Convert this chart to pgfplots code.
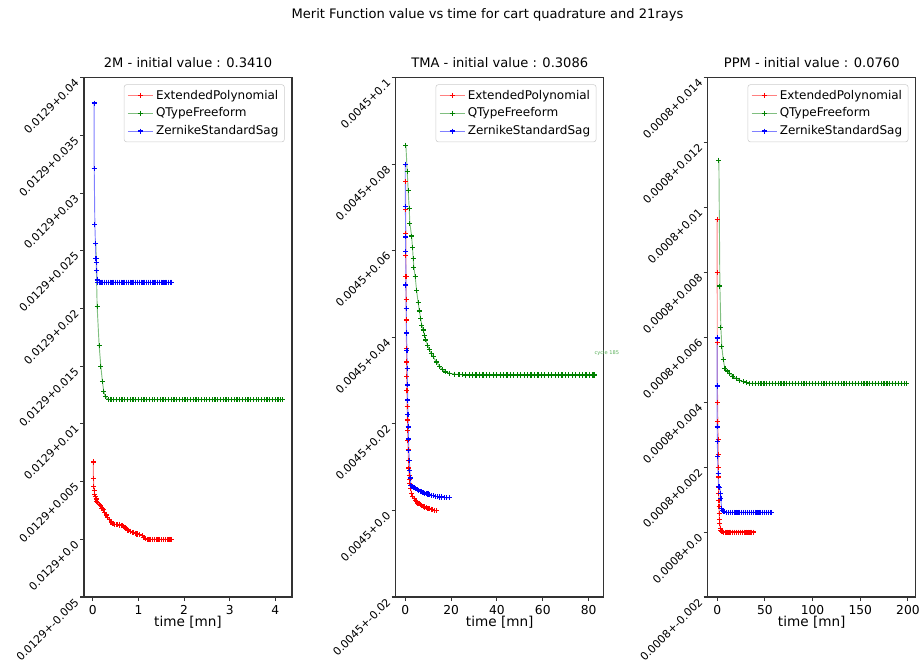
\documentclass[border=0pt]{standalone}
\usepackage{fontspec}
\setmainfont{DejaVu Sans}
\usepackage{pgfplots}
\pgfplotsset{compat=1.18}
\definecolor{mred}{rgb}{1,0,0}
\definecolor{mgreen}{rgb}{0,0.5,0}
\definecolor{mblue}{rgb}{0,0,1}
\definecolor{cyc}{RGB}{90,175,90}
\pgfplotsset{
  ser/.style={color=#1, draw=#1!50!white, line width=0.7pt, mark=+, mark size=1.9pt,
    mark options={color=#1, solid, line width=0.9pt}},
  myax/.style={
    scale only axis, width=156pt, height=389.5pt, anchor=south west,
    scaled x ticks=false, scaled y ticks=false,
    axis line style={black!80, line width=0.8pt},
    tick style={black!80, line width=0.8pt},
    tick align=outside, major tick length=3pt, tick pos=left,
    xticklabel style={font=\fontsize{9.2}{10}\selectfont},
    yticklabel style={font=\fontsize{8.2}{9}\selectfont, rotate=45, anchor=east},
    /pgf/number format/assume math mode=true,
    xlabel={time [mn]},
    xlabel style={font=\fontsize{10.2}{11}\selectfont, at={(axis description cs:0.5,0)}, anchor=center, yshift=-18.6pt},
    title style={font=\fontsize{9.8}{11}\selectfont, at={(axis description cs:0.5,1)}, anchor=center, yshift=5pt},
    legend style={at={(1,1)}, anchor=north east, xshift=-5.5pt, yshift=-5pt,
      draw=black!20, rounded corners=2pt, fill=white,
      font=\fontsize{9}{10}\selectfont, row sep=1pt, inner xsep=2.5pt, inner ysep=2pt},
    legend cell align=left,
    legend image code/.code={\draw[##1, mark repeat=2, mark phase=2] plot coordinates {(0pt,0pt) (9.4pt,0pt) (18.75pt,0pt)};},
  }
}
\begin{document}
\begin{tikzpicture}
\path[use as bounding box] (0,0) rectangle (692.25pt,498pt);
\node[font=\fontsize{9.8}{11}\selectfont] at (365.6pt,486.75pt) {Merit Function value vs time for cart quadrature and 21rays};

% ---------------- 2M ----------------
\begin{axis}[myax, at={(63pt,50.25pt)},
  title={2M - initial value : 0.3410},
  xmin=-0.194, xmax=4.367, ymin=-0.005, ymax=0.04,
  xtick={0,1,2,3,4},
  ytick={-0.005,0,0.005,0.01,0.015,0.02,0.025,0.03,0.035,0.04},
  yticklabels={0.0129+-0.005,0.0129+0.0,0.0129+0.005,0.0129+0.01,0.0129+0.015,0.0129+0.02,0.0129+0.025,0.0129+0.03,0.0129+0.035,0.0129+0.04},
]
\addplot[ser=mred] coordinates {
(0.013,0.0067)(0.013,0.0053)(0.02,0.0046)(0.03,0.0042)(0.04,0.0039)(0.05,0.0037)(0.07,0.0035)(0.09,0.0033)(0.11,0.0032)(0.14,0.0030)(0.17,0.0029)(0.20,0.0027)(0.23,0.0026)(0.26,0.0023)(0.29,0.0021)(0.32,0.0019)(0.36,0.0017)(0.40,0.0015)(0.44,0.00136)(0.48,0.0013)(0.53,0.00127)(0.58,0.00124)(0.64,0.0012)(0.68,0.0011)(0.71,0.0010)(0.74,0.0009)(0.77,0.0008)(0.82,0.0007)(0.88,0.0006)(0.93,0.0005)(0.97,0.00046)(1.02,0.0004)(1.08,0.0003)(1.12,0.00015)(1.15,0.00005)(1.19,0.0)(1.23,0.0)(1.27,0.0)(1.31,0.0)(1.35,0.0)(1.39,0.0)(1.43,0.0)(1.47,0.0)(1.51,0.0)(1.55,0.0)(1.59,0.0)(1.63,0.0)(1.67,0.0)(1.71,0.0)(1.73,0.0)};
\addlegendentry{ExtendedPolynomial}
\addplot[ser=mgreen] coordinates {
(0.066,0.0256)(0.094,0.0202)(0.138,0.0168)(0.175,0.0150)(0.21,0.01366)(0.24,0.0128)(0.276,0.01236)(0.34,0.0121)(0.40,0.0121)(0.46,0.0121)(0.52,0.0121)(0.58,0.0121)(0.64,0.0121)(0.70,0.0121)(0.76,0.0121)(0.82,0.0121)(0.88,0.0121)(0.94,0.0121)(1.00,0.0121)(1.06,0.0121)(1.12,0.0121)(1.18,0.0121)(1.24,0.0121)(1.30,0.0121)(1.36,0.0121)(1.42,0.0121)(1.48,0.0121)(1.54,0.0121)(1.60,0.0121)(1.66,0.0121)(1.72,0.0121)(1.78,0.0121)(1.84,0.0121)(1.90,0.0121)(1.96,0.0121)(2.02,0.0121)(2.08,0.0121)(2.14,0.0121)(2.20,0.0121)(2.26,0.0121)(2.32,0.0121)(2.38,0.0121)(2.44,0.0121)(2.50,0.0121)(2.56,0.0121)(2.62,0.0121)(2.68,0.0121)(2.74,0.0121)(2.80,0.0121)(2.86,0.0121)(2.92,0.0121)(2.98,0.0121)(3.04,0.0121)(3.10,0.0121)(3.16,0.0121)(3.22,0.0121)(3.28,0.0121)(3.34,0.0121)(3.40,0.0121)(3.46,0.0121)(3.52,0.0121)(3.58,0.0121)(3.64,0.0121)(3.70,0.0121)(3.76,0.0121)(3.82,0.0121)(3.88,0.0121)(3.94,0.0121)(4.00,0.0121)(4.06,0.0121)(4.12,0.0121)(4.16,0.0121)};
\addlegendentry{QTypeFreeform}
\addplot[ser=mblue] coordinates {
(0.03,0.0378)(0.03,0.0321)(0.044,0.0273)(0.057,0.0256)(0.066,0.0243)(0.07,0.0243)(0.08,0.0240)(0.088,0.0233)(0.094,0.02247)(0.10,0.02227)(0.14,0.02227)(0.18,0.02227)(0.22,0.02227)(0.26,0.02227)(0.30,0.02227)(0.34,0.02227)(0.38,0.02227)(0.42,0.02227)(0.46,0.02227)(0.50,0.02227)(0.54,0.02227)(0.58,0.02227)(0.62,0.02227)(0.66,0.02227)(0.70,0.02227)(0.74,0.02227)(0.78,0.02227)(0.82,0.02227)(0.86,0.02227)(0.90,0.02227)(0.94,0.02227)(0.98,0.02227)(1.02,0.02227)(1.06,0.02227)(1.10,0.02227)(1.14,0.02227)(1.18,0.02227)(1.22,0.02227)(1.26,0.02227)(1.30,0.02227)(1.34,0.02227)(1.38,0.02227)(1.42,0.02227)(1.46,0.02227)(1.50,0.02227)(1.54,0.02227)(1.58,0.02227)(1.62,0.02227)(1.66,0.02227)(1.70,0.02227)(1.73,0.02227)};
\addlegendentry{ZernikeStandardSag}
\end{axis}

% ---------------- TMA ----------------
\begin{axis}[myax, at={(296.8pt,50.25pt)}, clip=false,
  title={TMA - initial value : 0.3086},
  xmin=-4.13, xmax=86.6, ymin=-0.02, ymax=0.1,
  xtick={0,20,40,60,80},
  ytick={-0.02,0,0.02,0.04,0.06,0.08,0.1},
  yticklabels={0.0045+-0.02,0.0045+0.0,0.0045+0.02,0.0045+0.04,0.0045+0.06,0.0045+0.08,0.0045+0.1},
]
\addplot[ser=mred] coordinates {
(0.17,0.0760)(0.2,0.0696)(0.26,0.0639)(0.3,0.0590)(0.35,0.0540)(0.39,0.0488)(0.48,0.0440)(0.57,0.0374)(0.6,0.0343)(0.67,0.031)(0.74,0.0278)(0.85,0.024)(0.96,0.0209)(1.07,0.0185)(1.17,0.0162)(1.28,0.014)(1.39,0.0116)(1.55,0.0098)(1.7,0.0081)(1.85,0.0071)(2.04,0.0062)(2.4,0.0050)(2.78,0.0039)(3.3,0.0032)(3.9,0.0027)(4.5,0.0023)(4.96,0.0020)(5.5,0.0017)(6.0,0.0015)(6.6,0.0013)(7.2,0.0011)(7.9,0.0009)(8.57,0.0008)(9.2,0.0006)(9.9,0.0005)(10.6,0.0004)(11.3,0.0003)(12.0,0.0002)(12.8,0.0)(13.65,-0.0001)};
\addlegendentry{ExtendedPolynomial}
\addplot[ser=mgreen] coordinates {
(0.3,0.0844)(0.87,0.0783)(1.3,0.0739)(1.74,0.0698)(2.04,0.0663)(2.78,0.0634)(3.2,0.0607)(3.48,0.0582)(3.78,0.0562)(4.35,0.0540)(4.96,0.0509)(5.65,0.0480)(6.2,0.0461)(6.7,0.0444)(7.26,0.0428)(7.83,0.0417)(8.43,0.0405)(9.0,0.0394)(9.74,0.0382)(10.43,0.0372)(11.3,0.0363)(12.17,0.0355)(13.65,0.0343)(15.1,0.0332)(16.4,0.0325)(17.7,0.0320)(19.4,0.0317)(21.6,0.0315)(23.5,0.0314)(25.0,0.0314)(26.4,0.0313)(27.9,0.0313)(29.4,0.0313)(30.9,0.0313)(32.4,0.0313)(33.9,0.0313)(35.4,0.0313)(36.9,0.0313)(38.4,0.0313)(39.9,0.0313)(41.4,0.0313)(42.9,0.0313)(44.4,0.0313)(45.9,0.0313)(47.4,0.0313)(48.9,0.0313)(50.4,0.0313)(51.9,0.0313)(53.4,0.0313)(54.9,0.0313)(56.4,0.0313)(57.9,0.0313)(59.4,0.0313)(60.9,0.0313)(62.4,0.0313)(63.9,0.0313)(65.4,0.0313)(66.9,0.0313)(68.4,0.0313)(69.9,0.0313)(71.4,0.0313)(72.9,0.0313)(74.4,0.0313)(75.9,0.0313)(77.4,0.0313)(78.9,0.0313)(80.4,0.0313)(81.9,0.0313)(82.5,0.0313)};
\addlegendentry{QTypeFreeform}
\addplot[ser=mblue] coordinates {
(0.0,0.0800)(0.09,0.0702)(0.17,0.0632)(0.22,0.0598)(0.3,0.0521)(0.43,0.0467)(0.6,0.0410)(0.74,0.0370)(0.87,0.0328)(0.98,0.029)(1.09,0.0255)(1.2,0.0222)(1.3,0.0193)(1.45,0.0165)(1.6,0.0139)(1.8,0.0115)(2.04,0.0093)(2.25,0.0075)(2.48,0.0058)(3.0,0.0056)(3.48,0.0054)(4.0,0.0052)(4.6,0.0050)(5.2,0.0048)(5.8,0.0046)(6.5,0.0044)(7.13,0.0043)(7.8,0.0041)(8.5,0.0040)(9.2,0.0039)(9.9,0.0038)(10.7,0.0036)(11.48,0.0035)(12.3,0.0034)(13.1,0.0033)(14.0,0.0032)(15.0,0.0031)(16.0,0.0031)(17.0,0.0030)(18.0,0.0029)(19.43,0.0029)};
\addlegendentry{ZernikeStandardSag}
\node[anchor=west, inner sep=0pt, font=\fontsize{3.8}{4}\selectfont, text=cyc] at (axis cs:82.5,0.0363) {cycle 185};
\end{axis}

% ---------------- PPM ----------------
\begin{axis}[myax, at={(530.8pt,50.25pt)},
  title={PPM - initial value : 0.0760},
  xmin=-9.9, xmax=208.2, ymin=-0.002, ymax=0.014,
  xtick={0,50,100,150,200},
  ytick={-0.002,0,0.002,0.004,0.006,0.008,0.01,0.012,0.014},
  yticklabels={0.0008+-0.002,0.0008+0.0,0.0008+0.002,0.0008+0.004,0.0008+0.006,0.0008+0.008,0.0008+0.01,0.0008+0.012,0.0008+0.014},
]
\addplot[ser=mred] coordinates {
(0.0,0.00963)(0.0,0.0080)(0.1,0.00583)(0.4,0.0040)(0.7,0.0034)(1.0,0.00285)(1.0,0.0024)(1.0,0.0020)(1.2,0.0017)(1.4,0.00139)(1.6,0.0012)(1.8,0.00098)(2.0,0.0008)(2.1,0.00057)(2.4,0.0004)(2.8,0.00026)(3.3,0.00012)(3.9,0.00005)(5.0,0.00002)(6.3,0.0)(8.3,0.0)(10.3,0.0)(12.3,0.0)(14.3,0.0)(16.3,0.0)(18.3,0.0)(20.3,0.0)(22.3,0.0)(24.3,0.0)(26.3,0.0)(28.3,0.0)(30.3,0.0)(32.3,0.0)(34.3,0.0)(36.3,0.0)(37.7,0.0)};
\addlegendentry{ExtendedPolynomial}
\addplot[ser=mgreen] coordinates {
(1.78,0.01146)(2.83,0.00758)(3.87,0.0063)(4.9,0.00571)(6.3,0.00532)(8.1,0.00504)(10.5,0.00496)(13.3,0.00489)(16.5,0.0048)(20.3,0.00473)(23.5,0.00468)(27.2,0.00463)(30.5,0.0046)(34.2,0.00458)(37,0.00458)(40,0.00458)(43,0.00458)(46,0.00458)(49,0.00458)(52,0.00458)(55,0.00458)(58,0.00458)(61,0.00458)(64,0.00458)(67,0.00458)(70,0.00458)(73,0.00458)(76,0.00458)(79,0.00458)(82,0.00458)(85,0.00458)(88,0.00458)(91,0.00458)(94,0.00458)(97,0.00458)(100,0.00458)(103,0.00458)(106,0.00458)(109,0.00458)(112,0.00458)(115,0.00458)(118,0.00458)(121,0.00458)(124,0.00458)(127,0.00458)(130,0.00458)(133,0.00458)(136,0.00458)(139,0.00458)(142,0.00458)(145,0.00458)(148,0.00458)(151,0.00458)(154,0.00458)(157,0.00458)(160,0.00458)(163,0.00458)(166,0.00458)(169,0.00458)(172,0.00458)(175,0.00458)(178,0.00458)(181,0.00458)(184,0.00458)(187,0.00458)(190,0.00458)(193,0.00458)(196,0.00458)(198.3,0.00458)};
\addlegendentry{QTypeFreeform}
\addplot[ser=mblue] coordinates {
(0.0,0.00598)(0.0,0.0045)(0.0,0.00324)(0.2,0.0028)(0.4,0.00232)(1.0,0.00180)(1.8,0.00141)(2.8,0.00137)(3.4,0.0012)(3.9,0.00103)(4.6,0.00072)(5.4,0.00067)(6.3,0.00064)(8.0,0.00062)(9.8,0.00061)(11.8,0.00061)(13.8,0.00061)(15.8,0.00061)(17.8,0.00061)(19.8,0.00061)(21.8,0.00061)(23.8,0.00061)(25.8,0.00061)(27.8,0.00061)(29.8,0.00061)(31.8,0.00061)(33.8,0.00061)(35.8,0.00061)(37.8,0.00061)(39.8,0.00061)(41.8,0.00061)(43.8,0.00061)(45.8,0.00061)(47.8,0.00061)(49.8,0.00061)(51.8,0.00061)(53.8,0.00061)(55.8,0.00061)(57,0.00061)};
\addlegendentry{ZernikeStandardSag}
\end{axis}
\end{tikzpicture}
\end{document}
